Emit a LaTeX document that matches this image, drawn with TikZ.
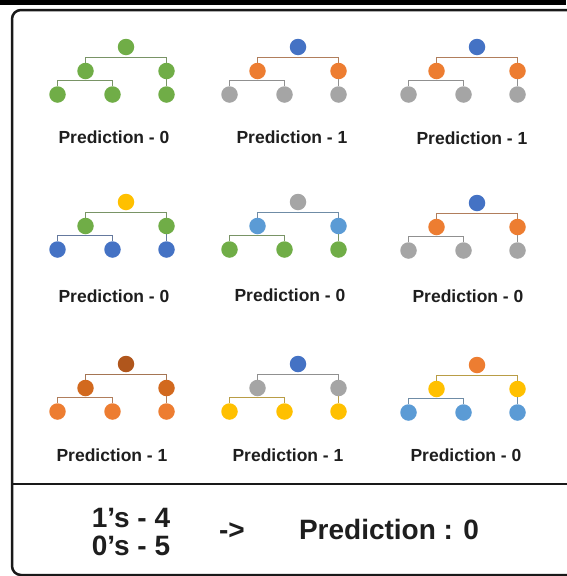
\documentclass[tikz,border=0pt]{standalone}
\usepackage{fontspec}
\setmainfont{Liberation Sans}
\usepackage{tikz}
\usetikzlibrary{positioning}

\definecolor{nodegreen}{HTML}{70AD47}
\definecolor{nodeblue}{HTML}{4472C4}
\definecolor{nodeorange}{HTML}{ED7D31}
\definecolor{nodegray}{HTML}{A5A5A5}
\definecolor{nodegold}{HTML}{FFC000}
\definecolor{nodesky}{HTML}{5B9BD5}
\definecolor{nodebrown}{HTML}{B0561C}
\definecolor{noderust}{HTML}{D2691E}
\definecolor{textdark}{HTML}{1E1E1E}

% one small decision tree: prefix, x, y, root, middle, leaf colours
\newcommand{\predtree}[6]{%
  \node[dot, fill=#4] (#1r) at (#2,#3) {};
  \node[dot, fill=#5, below left=24pt and 40.5pt of #1r] (#1a) {};
  \node[dot, fill=#5, below right=24pt and 40.5pt of #1r] (#1b) {};
  \node[dot, fill=#6, below left=23.5pt and 28pt of #1a] (#1c) {};
  \node[dot, fill=#6, below right=23.5pt and 27pt of #1a] (#1d) {};
  \node[dot, fill=#6, below=23.5pt of #1b] (#1e) {};
  \draw[branch, draw=#5!45!gray] (#1a.north) |- ([yshift=-2pt]#1r.south) -| (#1b.north);
  \draw[branch, draw=#6!45!gray] (#1c.north) |- ([yshift=-1pt]#1a.south) -| (#1d.north);
  \draw[branch, draw=#6!45!gray] (#1b.south) -- (#1e.north);
}

\begin{document}
\begin{tikzpicture}[
    x=1pt, y=-1pt,
    dot/.style={circle, minimum size=16.5pt, inner sep=0pt, on grid},
    branch/.style={line width=0.9pt},
    pred/.style={font=\fontsize{17.5}{21}\selectfont\bfseries, text=textdark},
    vote/.style={font=\fontsize{28}{32}\selectfont\bfseries, text=textdark, align=center}
]
\useasboundingbox (0,0) rectangle (566,576);

% frame
\fill[black] (0,0) rectangle (566,4.5);
\draw[line width=2.5pt, black!90, rounded corners=9pt] (12,10) rectangle (660,575);
\draw[line width=2.5pt, black!90] (12,484) -- (660,484);

% the nine trees
\predtree{t1}{126}{47}{nodegreen}{nodegreen}{nodegreen}
\predtree{t2}{298}{47}{nodeblue}{nodeorange}{nodegray}
\predtree{t3}{477}{47}{nodeblue}{nodeorange}{nodegray}
\predtree{t4}{126}{202}{nodegold}{nodegreen}{nodeblue}
\predtree{t5}{298}{202}{nodegray}{nodesky}{nodegreen}
\predtree{t6}{477}{203}{nodeblue}{nodeorange}{nodegray}
\predtree{t7}{126}{364}{nodebrown}{noderust}{nodeorange}
\predtree{t8}{298}{364}{nodeblue}{nodegray}{nodegold}
\predtree{t9}{477}{365}{nodeorange}{nodegold}{nodesky}

\node[pred] (p1) at (114,137) {Prediction - 0};
\node[pred] (p2) at (292,137) {Prediction - 1};
\node[pred] (p3) at (472,138) {Prediction - 1};
\node[pred] (p4) at (114,296) {Prediction - 0};
\node[pred] (p5) at (290,295) {Prediction - 0};
\node[pred] (p6) at (468,296) {Prediction - 0};
\node[pred] (p7) at (112,455) {Prediction - 1};
\node[pred] (p8) at (288,455) {Prediction - 1};
\node[pred] (p9) at (466,455) {Prediction - 0};

% majority vote
\node[vote] (ones) at (131,518) {1's - 4};
\node[vote] (zeros) at (131,546) {0's - 5};
\node[vote] (arr) at (232,531) {->};
\node[vote] (final) at (389,529) {Prediction : 0};

\end{tikzpicture}
\end{document}
